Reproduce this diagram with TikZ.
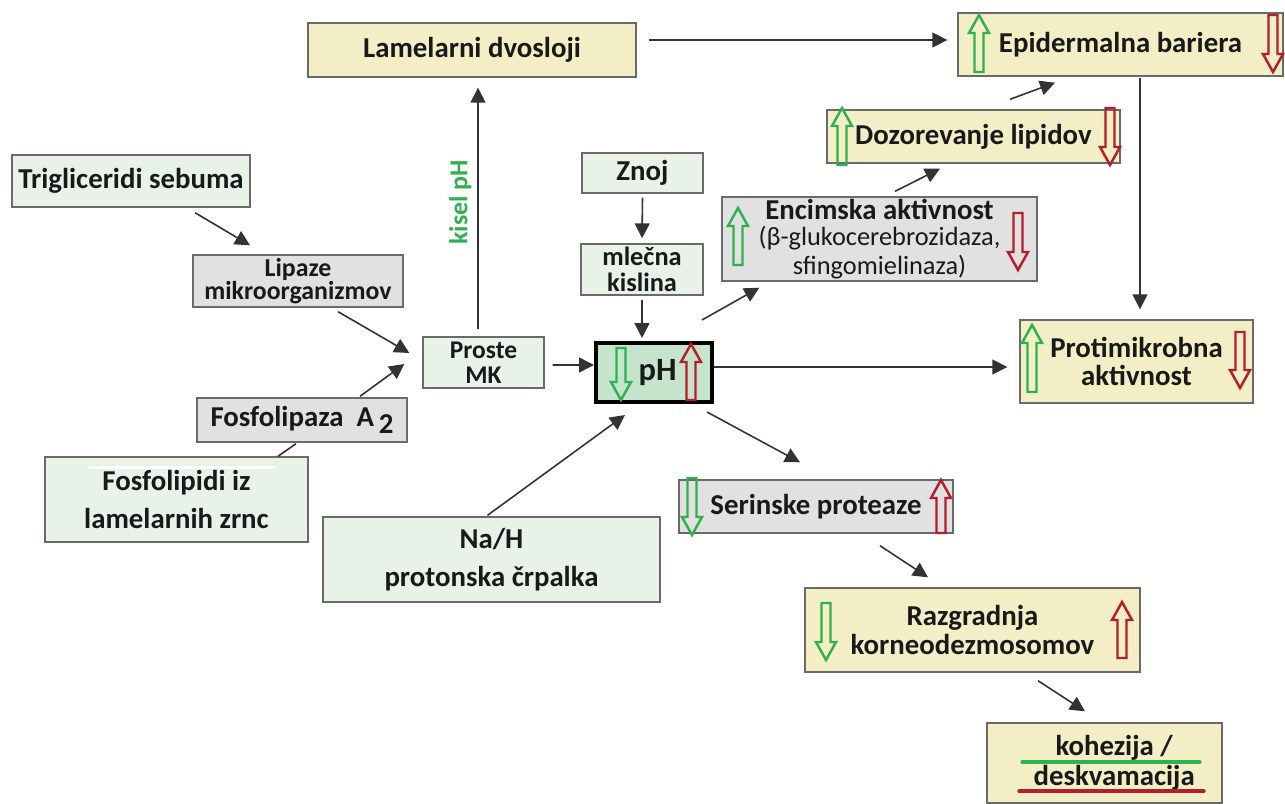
\documentclass[tikz,border=0pt]{standalone}
\usepackage{fontspec}
\setmainfont{Carlito}
\usepackage{xcolor}
\usepackage{tikz}
\usetikzlibrary{arrows.meta,calc}

\definecolor{beige}{HTML}{F3EEC6}
\definecolor{lightgreen}{HTML}{E8F2E9}
\definecolor{boxgray}{HTML}{E1E1E1}
\definecolor{phgreen}{HTML}{C6E3CC}
\definecolor{upgreen}{HTML}{2DB24F}
\definecolor{downred}{HTML}{B41F2A}
\definecolor{boxline}{HTML}{6A6A6A}
\definecolor{arrline}{HTML}{333333}

% hollow up / down arrows: {colour}{x}{top}{bottom}
\newcommand{\hollowup}[4]{\draw[#1,line width=1.4pt] (#2,#3) -- ++(10,18) -- ++(-5.5,0) -- (#2+4.5,#4) -- (#2-4.5,#4) -- (#2-4.5,#3+18) -- (#2-10,#3+18) -- cycle;}
\newcommand{\hollowdown}[4]{\draw[#1,line width=1.4pt] (#2,#4) -- ++(10,-18) -- ++(-5.5,0) -- (#2+4.5,#3) -- (#2-4.5,#3) -- (#2-4.5,#4-18) -- (#2-10,#4-18) -- cycle;}

\begin{document}
\begin{tikzpicture}[x=0.02cm,y=-0.02cm,
    box/.style={draw=boxline,line width=0.8pt,align=center,inner sep=0pt,text=black!90,
        font=\fontsize{16.4}{17}\selectfont\bfseries},
    tanbox/.style={box,fill=beige},
    greybox/.style={box,fill=boxgray},
    greenbox/.style={box,fill=lightgreen},
    arr/.style={draw=arrline,line width=0.9pt,-{Triangle[length=8.5pt,width=8.5pt]}}]
    \useasboundingbox[fill=white] (0,0) rectangle (1285,804);

    % left column
    \node[greenbox,minimum width=4.76cm,minimum height=1.04cm] (trig) at (131,181) {Trigliceridi sebuma};
    \node[greybox,minimum width=4.2cm,minimum height=1.04cm,font=\fontsize{14.7}{13.5}\selectfont\bfseries] (lipaze) at (298,281) {Lipaze\\mikroorganizmov};
    \node[greybox,minimum width=4.2cm,minimum height=0.88cm] (fosfa) at (302,420) {Fosfolipaza~~A\,\raisebox{-0.55ex}{2}};
    \node[greenbox,minimum width=5.26cm,minimum height=1.7cm] (fosfi) at (176.5,499.5) {Fosfolipidi iz\\[5pt]lamelarnih zrnc};
    \draw[white,line width=1.2pt] ([shift={(-88,-32)}]fosfi.center) -- ++(186,0);
    \node[greenbox,minimum width=6.74cm,minimum height=1.7cm] (nah) at (491.5,559.5) {Na/H\\[5pt]protonska črpalka};

    % middle
    \node[tanbox,minimum width=6.56cm,minimum height=1.08cm] (lamel) at (472,50) {Lamelarni dvosloji};
    \node[greenbox,minimum width=2.42cm,minimum height=1.02cm,font=\fontsize{14.5}{14}\selectfont\bfseries] (proste) at (483.5,362.5) {Proste\\MK};
    \node[greenbox,minimum width=2.42cm,minimum height=0.8cm] (znoj) at (642.5,173) {Znoj};
    \node[greenbox,minimum width=2.44cm,minimum height=1.02cm,font=\fontsize{15}{15}\selectfont\bfseries] (mlec) at (642,269.5) {mlečna\\kislina};
    \node[box,draw=black,line width=2.3pt,fill=phgreen,minimum width=2.32cm,minimum height=1.18cm,font=\fontsize{18.5}{18}\selectfont\bfseries] (ph) at (654,372.5) {\hspace*{4pt}pH};

    % right side
    \node[tanbox,minimum width=6.5cm,minimum height=1.26cm] (epid) at (1120.5,44.5) {Epidermalna bariera};
    \node[tanbox,minimum width=5.86cm,minimum height=1.06cm] (dozor) at (973.5,136.5) {Dozorevanje lipidov};
    \node[greybox,minimum width=6.3cm,minimum height=1.68cm] (encim) at (879.5,239) {Encimska aktivnost\\[-2pt]{\fontsize{15}{13}\selectfont\mdseries (β-glukocerebrozidaza,}\\[-1pt]{\fontsize{15}{13}\selectfont\mdseries sfingomielinaza)}};
    \node[tanbox,minimum width=4.66cm,minimum height=1.66cm] (protim) at (1136.5,361.5) {Protimikrobna\\[-1pt]aktivnost};
    \node[greybox,minimum width=5.48cm,minimum height=1.06cm] (serin) at (816,506.5) {Serinske proteaze};
    \node[tanbox,minimum width=6.7cm,minimum height=1.68cm] (razgr) at (972.5,630) {Razgradnja\\korneodezmosomov};
    \node[tanbox,minimum width=4.7cm,minimum height=1.6cm] (kohez) at (1104.5,763) {\hspace*{11pt}kohezija /\\\hspace*{11pt}deskvamacija};
    \draw[upgreen,line width=1.8pt,line cap=round] ([shift={(-82.5,-1)}]kohez.center) -- ++(178,0);
    \draw[downred,line width=1.8pt,line cap=round] ([shift={(-85.5,28)}]kohez.center) -- ++(185,0);

    % connectors
    \draw[arr] ([shift={(64,5)}]trig.south) -- ([shift={(-48,-9)}]lipaze.north);
    \draw[arr] ([shift={(40,4)}]lipaze.south) -- ([shift={(-13,-9.5)}]proste.west);
    \draw[arr] ([shift={(58,-1)}]fosfa.north) -- ([shift={(-18,1.5)}]proste.west);
    \draw[draw=arrline,line width=0.9pt] ([shift={(101.5,0)}]fosfi.north) -- ([shift={(-6,1)}]fosfa.south);
    \draw[arr] ([shift={(-4,-1)}]nah.north) -- ([shift={(-29,11)}]ph.south);
    \draw[arr] ([shift={(-5.5,-7)}]proste.north) -- node[pos=0.525,above,rotate=90,text=upgreen,font=\fontsize{14.7}{15}\selectfont\bfseries] (kisel) {kisel pH} ([shift={(6,10)}]lamel.south);
    \draw[arr] ([shift={(8,2.5)}]proste.east) -- ([shift={(0,-7.5)}]ph.west);
    \draw[arr] ([shift={(0,4)}]znoj.south) -- ([shift={(0,-5)}]mlec.north);
    \draw[arr] ([shift={(0,4)}]mlec.south) -- ([shift={(-12,-3)}]ph.north);
    \draw[arr] ([shift={(12,-10)}]lamel.east) -- ([shift={(-10,-4.5)}]epid.west);
    \draw[arr] ([shift={(19.5,1)}]epid.south) -- ([shift={(3.5,-10)}]protim.north);
    \draw[arr] ([shift={(36.5,-10)}]dozor.north) -- ([shift={(-65.5,6)}]epid.south);
    \draw[arr] ([shift={(15.5,-5)}]encim.north) -- ([shift={(-33.5,5)}]dozor.south);
    \draw[arr] ([shift={(-12,-21)}]ph.north east) -- ([shift={(38,6)}]encim.south west);
    \draw[arr] ([shift={(0,-5.5)}]ph.east) -- ([shift={(-12,5.5)}]protim.west);
    \draw[arr] ([shift={(-7,8)}]ph.south east) -- ([shift={(-16,-17)}]serin.north);
    \draw[arr] ([shift={(64,12)}]serin.south) -- ([shift={(-44.5,-10)}]razgr.north);
    \draw[arr] ([shift={(65.5,8)}]razgr.south) -- ([shift={(-19.5,-11)}]kohez.north);

    % up / down markers
    \hollowdown{upgreen}{621}{348}{400}
    \hollowup{downred}{691}{344}{400}
    \hollowup{upgreen}{979}{15}{72}
    \hollowdown{downred}{1273}{15}{72}
    \hollowup{upgreen}{842}{108}{165}
    \hollowdown{downred}{1110}{108}{165}
    \hollowup{upgreen}{738}{208}{265}
    \hollowdown{downred}{1018}{213}{270}
    \hollowup{upgreen}{1032}{325}{392}
    \hollowdown{downred}{1240}{332}{388}
    \hollowdown{upgreen}{692}{478}{535}
    \hollowup{downred}{941}{480}{533}
    \hollowdown{upgreen}{826}{603}{660}
    \hollowup{downred}{1122}{602}{658}
\end{tikzpicture}
\end{document}
